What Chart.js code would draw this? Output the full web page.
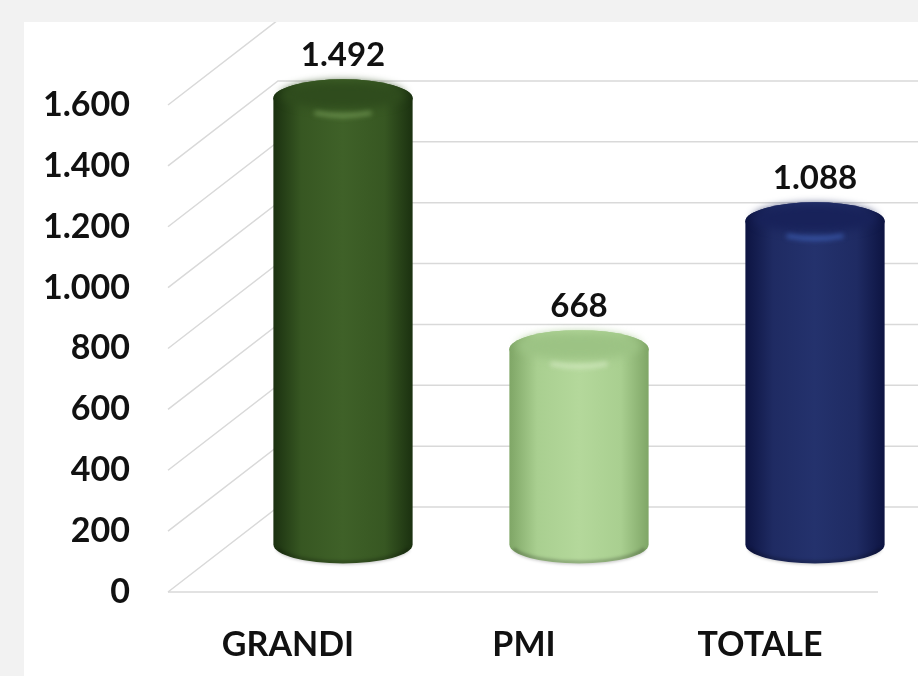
<!DOCTYPE html>
<html>
<head>
<meta charset="utf-8">
<script src="https://cdn.jsdelivr.net/npm/chart.js@4/dist/chart.umd.min.js"></script>
<style>
    html, body { margin: 0; padding: 0; background: #f2f2f2; }
    #panel { position: absolute; left: 24px; top: 22px; width: 894px; height: 654px; background: #ffffff; }
</style>
</head>
<body>
<div id="panel"><canvas id="chart"></canvas></div>
<script>
const categories = ['GRANDI', 'PMI', 'TOTALE'];
const values = [1492, 668, 1088];
const yMin = 0;
const yMax = 1600;
const yStep = 200;

// side shading (edge, middle, light middle) and top face colour of each cylinder
const sideColors = [
    ['#1b3110', '#375722', '#3f6128'],
    ['#7fa666', '#a9cf90', '#b4d89b'],
    ['#0d1442', '#1f2b63', '#24326d']
];
const topColors = ['#2f4c1d', '#9cc384', '#18225a'];
const glowColors = ['#8db56a', '#e4f4d6', '#4a74d8'];

// depth of the floor / back wall
const depthX = 110;
const depthY = -85;
const gridColor = '#d9d9d9';

function dotThousands(n) {
    return String(n).replace(/\B(?=(\d{3})+(?!\d))/g, '.');
}

const wallPlugin = {
    id: 'wall',
    beforeDatasetsDraw(chart) {
        const ctx = chart.ctx;
        const area = chart.chartArea;
        const y = chart.scales.y;
        ctx.save();
        ctx.strokeStyle = gridColor;
        ctx.lineWidth = 1.5;
        for (let v = yMin; v <= yMax; v += yStep) {
            const py = y.getPixelForValue(v);
            const x0 = area.left - 2;
            ctx.beginPath();
            ctx.moveTo(x0, py);
            ctx.lineTo(x0 + depthX, py + depthY);
            ctx.lineTo(chart.width, py + depthY);
            ctx.stroke();
        }
        // front edge of the floor
        const p0 = y.getPixelForValue(0);
        ctx.beginPath();
        ctx.moveTo(area.left - 2, p0);
        ctx.lineTo(area.right, p0);
        ctx.stroke();
        ctx.restore();
    }
};

function drawCylinder(ctx, cx, yTop, yBase, rx, ry, i) {
    const side = sideColors[i];
    const g = ctx.createLinearGradient(cx - rx, 0, cx + rx, 0);
    g.addColorStop(0, side[0]);
    g.addColorStop(0.2, side[1]);
    g.addColorStop(0.5, side[2]);
    g.addColorStop(0.8, side[1]);
    g.addColorStop(1, side[0]);

    ctx.beginPath();
    ctx.moveTo(cx - rx, yTop);
    ctx.lineTo(cx - rx, yBase);
    ctx.ellipse(cx, yBase, rx, ry, 0, Math.PI, 0, true);
    ctx.lineTo(cx + rx, yTop);
    ctx.ellipse(cx, yTop, rx, ry, 0, 0, Math.PI, true);
    ctx.closePath();
    ctx.fillStyle = g;
    ctx.fill();

    // darker rim along the bottom
    ctx.save();
    ctx.beginPath();
    ctx.ellipse(cx, yBase, rx - 2, ry - 1, 0, Math.PI * 0.92, Math.PI * 0.08, true);
    ctx.strokeStyle = 'rgba(0,0,0,0.22)';
    ctx.lineWidth = 4;
    ctx.filter = 'blur(1.5px)';
    ctx.stroke();
    ctx.restore();

    // rounded rim of the top: full ellipse in side shading
    ctx.beginPath();
    ctx.ellipse(cx, yTop, rx, ry, 0, 0, Math.PI * 2);
    ctx.fillStyle = g;
    ctx.fill();

    // flat top face, slightly inset
    ctx.save();
    ctx.beginPath();
    ctx.ellipse(cx, yTop - 3, rx - 8, ry - 5, 0, 0, Math.PI * 2);
    ctx.fillStyle = topColors[i];
    ctx.filter = 'blur(4px)';
    ctx.fill();
    ctx.restore();

    // soft highlight on the front edge of the top
    ctx.save();
    ctx.beginPath();
    ctx.ellipse(cx, yTop - 1, rx * 0.8, ry * 0.95, 0, Math.PI * 0.33, Math.PI * 0.67);
    ctx.strokeStyle = glowColors[i];
    ctx.globalAlpha = 0.6;
    ctx.lineWidth = 4;
    ctx.filter = 'blur(2.5px)';
    ctx.stroke();
    ctx.restore();
}

const cylinderPlugin = {
    id: 'cylinders',
    afterDatasetsDraw(chart) {
        const ctx = chart.ctx;
        const meta = chart.getDatasetMeta(0);
        ctx.save();
        meta.data.forEach((bar, i) => {
            const rx = bar.width / 2;
            const ry = 19;
            const cx = bar.x + depthX / 2;
            // the bevelled ends sit a little inside the bar's extent
            const yTop = bar.y + depthY / 2 + 3;
            const yBase = bar.base + depthY / 2 - 5;
            drawCylinder(ctx, cx, yTop, yBase, rx, ry, i);

            ctx.fillStyle = '#111111';
            ctx.font = 'bold 33px Lato';
            ctx.textAlign = 'center';
            ctx.textBaseline = 'middle';
            ctx.fillText(dotThousands(values[i]), cx, yTop - ry - 24);
        });
        ctx.restore();
    }
};

new Chart(document.getElementById('chart'), {
    type: 'bar',
    data: {
        labels: categories,
        datasets: [{
            data: values,
            backgroundColor: 'rgba(0,0,0,0)',
            borderWidth: 0,
            categoryPercentage: 1,
            barPercentage: 0.59
        }]
    },
    options: {
        responsive: true,
        maintainAspectRatio: false,
        animation: false,
        layout: { padding: { top: 83, right: 40, left: 0, bottom: 0 } },
        plugins: {
            legend: { display: false },
            tooltip: { enabled: false }
        },
        scales: {
            x: {
                grid: { display: false, drawTicks: false },
                border: { display: false },
                ticks: {
                    color: '#111111',
                    font: { family: 'Lato', size: 34, weight: 'bold' },
                    padding: 33
                },
                afterFit(s) { s.height = 84; }
            },
            y: {
                min: yMin,
                max: yMax,
                grid: { display: false, drawTicks: false },
                border: { display: false },
                ticks: {
                    stepSize: yStep,
                    color: '#111111',
                    font: { family: 'Lato', size: 34, weight: 'bold' },
                    padding: 40,
                    callback: (v) => dotThousands(v)
                },
                afterFit(s) { s.width = 146; }
            }
        }
    },
    plugins: [wallPlugin, cylinderPlugin]
});
</script>
</body>
</html>
